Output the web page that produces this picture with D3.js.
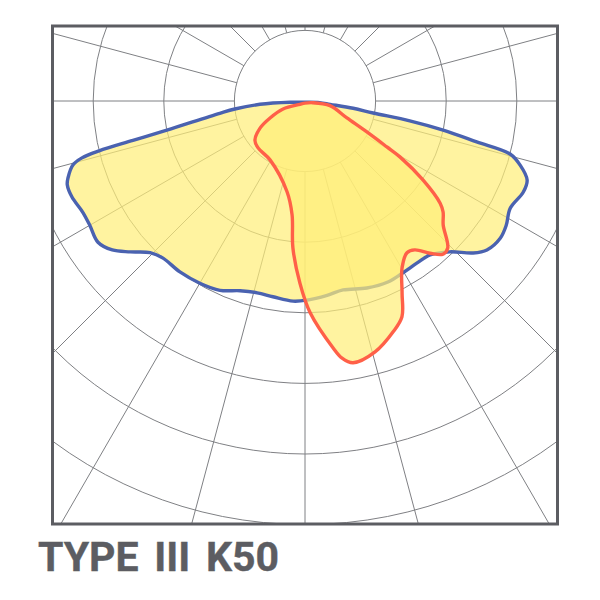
<!DOCTYPE html>
<html>
    <head>
        <title>TYPE III K50</title>
        <script src="https://d3js.org/d3.v7.min.js"></script>
        <style>
            html, body { margin: 0; padding: 0; background: #fff; }
            svg { display: block; }
        </style>
    </head>
    <body>
        <svg width="600" height="600"></svg>
        <script>
            const title = "TYPE III K50";
            const rings = [1, 2, 3, 4, 5, 6];
            const spokes = [-165, -150, -135, -120, -105, -90, -75, -60, -45, -30, -15, 0,
                            15, 30, 45, 60, 75, 90, 105, 120, 135, 150, 165, 180];

            // degrees from straight down (right is positive), intensity in ring units
            const blueAngles = [-85.0, -85.8, -83.5, -81.8, -78.1, -77.1, -76.4, -75.7, -74.6, -72.0, -70.6, -67.6, -63.4,
                                -60.0, -55.7, -52.3, -49.2, -45.6, -42.1, -36.2, -30.0, -24.2, -18.9,
                                -14.0, -9.3, -3.4, 0.6, 6.5, 11.4, 18.3, 24.6, 29.7, 34.7,
                                39.1, 43.8, 47.9, 50.7, 54.9, 58.3, 62.4, 67.3, 70.4, 73.4,
                                75.5, 76.6, 78.1, 79.3, 80.0, 81.4, 82.5, 83.9, 0];
            const blueValues = [0.21, 0.64, 1.00, 1.22, 2.00, 2.50, 3.00, 3.26, 3.41, 3.53, 3.57, 3.57, 3.52,
                                3.52, 3.55, 3.45, 3.27, 3.07, 3.00, 3.00, 2.98, 2.94, 2.84,
                                2.80, 2.81, 2.84, 2.82, 2.77, 2.73, 2.79, 2.82, 2.80, 2.79,
                                2.81, 2.96, 3.21, 3.33, 3.38, 3.35, 3.28, 3.35, 3.34, 3.18,
                                3.00, 2.50, 2.00, 1.51, 0.98, 0.69, 0.36, 0.21, 0.018];

            const redAngles = [-56.6, -70.0, -64.1, -59.0, -52.0, -45.0, -30.7, -11.2, -6.5, -4.7, -1.6, 1.4,
                               6.5, 8.2, 10.4, 15.6, 20.9, 24.2, 26.8, 30.1, 33.9, 36.4,
                               39.4, 42.0, 44.2, 48.1, 51.2, 52.9, 56.2, 59.5, 60.7, 63.4, 68.0, 79.4,
                               78.0, 0];
            const redValues = [0.085, 0.33, 0.55, 0.74, 0.90, 0.94, 0.97, 1.31, 1.62, 2.09, 2.58, 3.00,
                               3.52, 3.68, 3.77, 3.69, 3.50, 3.35, 3.05, 2.74, 2.59, 2.62,
                               2.79, 2.92, 2.90, 2.63, 2.51, 2.40, 2.01, 1.56, 1.33, 0.98, 0.64, 0.36,
                               0.116, 0.03];

            const svg = d3.select('svg');
            const frame = { left: 52.5, top: 26, width: 505, height: 498 };
            const center = { x: 305, y: 101 };

            const rScale = d3.scaleLinear().domain([0, 6]).range([0, 423.6]);
            const angleScale = d3.scaleLinear().domain([-180, 180]).range([2 * Math.PI, 0]);

            svg.append('clipPath')
                .attr('id', 'frame-clip')
                .append('rect')
                .attr('x', frame.left)
                .attr('y', frame.top)
                .attr('width', frame.width)
                .attr('height', frame.height);

            const clipped = svg.append('g').attr('clip-path', 'url(#frame-clip)');
            const g = clipped.append('g')
                .attr('transform', 'translate(' + center.x + ',' + center.y + ')');

            // grid
            g.selectAll('.ring')
                .data(rings)
                .enter().append('circle')
                .attr('class', 'ring')
                .attr('r', d => rScale(d))
                .style('fill', 'none')
                .style('stroke', '#7f8084')
                .style('stroke-width', 1);

            // spokes start on the first ring, the middle stays empty
            g.selectAll('.spoke')
                .data(spokes)
                .enter().append('line')
                .attr('class', 'spoke')
                .attr('x1', d => rScale(1) * Math.sin(angleScale(d)))
                .attr('y1', d => -rScale(1) * Math.cos(angleScale(d)))
                .attr('x2', d => rScale(8) * Math.sin(angleScale(d)))
                .attr('y2', d => -rScale(8) * Math.cos(angleScale(d)))
                .style('stroke', '#7f8084')
                .style('stroke-width', 1);

            const radial = d3.lineRadial()
                .angle(d => angleScale(d[0]))
                .radius(d => rScale(d[1]))
                .curve(d3.curveCatmullRomClosed.alpha(0.5));

            g.append('path')
                .attr('d', radial(d3.zip(blueAngles, blueValues)))
                .style('fill', '#ffee77')
                .style('fill-opacity', 0.7)
                .style('stroke', '#4a62b0')
                .style('stroke-width', 3.4)
                .style('stroke-linejoin', 'round');

            g.append('path')
                .attr('d', radial(d3.zip(redAngles, redValues)))
                .style('fill', '#ffee77')
                .style('fill-opacity', 0.7)
                .style('stroke', '#ff6048')
                .style('stroke-width', 3.4)
                .style('stroke-linejoin', 'round');

            svg.append('rect')
                .attr('x', frame.left)
                .attr('y', frame.top)
                .attr('width', frame.width)
                .attr('height', frame.height)
                .style('fill', 'none')
                .style('stroke', '#5c5d62')
                .style('stroke-width', 3);

            svg.append('text')
                .attr('x', 38)
                .attr('y', 571)
                .style('font-family', 'Roboto')
                .style('font-weight', 700)
                .style('font-size', '41px')
                .style('letter-spacing', '0px')
                .style('word-spacing', '5.5px')
                .style('stroke', '#5c5d62')
                .style('stroke-width', 0.4)
                .style('fill', '#5c5d62')
                .text(title);
        </script>
    </body>
</html>
